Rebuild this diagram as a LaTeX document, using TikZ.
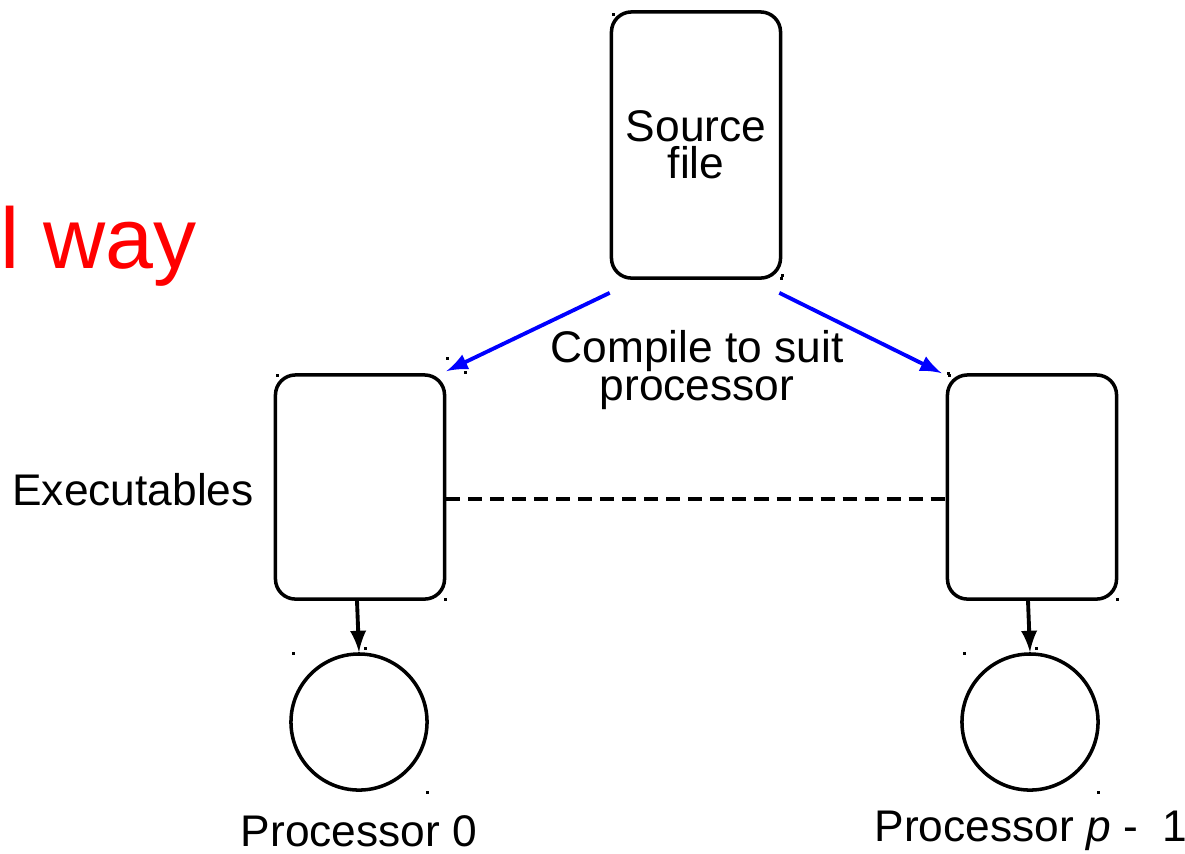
\documentclass[tikz,border=0pt]{standalone}
\usepackage{fontspec}
\setmainfont{Liberation Sans}
\usetikzlibrary{arrows}

\tikzset{
	box/.style={draw, line width=1pt, rounded corners=0.2cm, minimum width=1.69cm, inner sep=0pt},
	proc/.style={draw, circle, line width=1pt, minimum size=1.36cm, inner sep=0pt},
	lbl/.style={font=\fontsize{12.6}{10.6}\selectfont, align=center, inner sep=0pt},
	handle/.style={fill, inner sep=0pt, minimum size=0.03cm}
}

\begin{document}
\begin{tikzpicture}[x=0.01cm, y=-0.01cm]

	\useasboundingbox (0,0) rectangle (1185,853);

	\node [text=red, font=\fontsize{24.5}{24.5}\selectfont, anchor=base west, inner sep=0pt] (title) at (0,268) {l way};

	\node [box, minimum height=2.66cm, lbl] (src) at (696,145) {Source\\file};
	\node [box, minimum height=2.24cm] (exl) at (360,487) {};
	\node [box, minimum height=2.24cm] (exr) at (1032,487) {};
	\node [proc] (pl) at (359,722) {};
	\node [proc] (pr) at (1030,722) {};

	\node [lbl] (comp) at (697,370) {Compile to suit\\processor};
	\node [lbl] (exe) at (133,490) {Executables};
	\node [lbl] (pl0) at (359,831) {Processor 0};
	\node [lbl] (prp) at (1031,831) {Processor \textit{p} -\ \ 1};

	\draw [arrows={-latex}, blue, line width=1.1pt] ([yshift=-0.13cm]src.south west) -- ([yshift=0.02cm]exl.north east);
	\draw [arrows={-latex}, blue, line width=1.1pt] ([xshift=-0.03cm, yshift=-0.13cm]src.south east) -- ([xshift=-0.04cm]exr.north west);
	\draw [arrows={-latex}, line width=1.1pt] ([xshift=-0.03cm]exl.south) -- (pl.north);
	\draw [arrows={-latex}, line width=1.1pt] ([xshift=-0.04cm]exr.south) -- (pr.north);
	\draw [dashed, dash pattern=on 0.14cm off 0.08cm, line width=1pt] ([yshift=-0.12cm]exl.east) -- ([yshift=-0.12cm]exr.west);

	% selection handles left on the corners
	\foreach \px/\py in {613/14, 781/278, 447/358, 465/372, 782/275, 948/373, 277/375, 445/599, 949/375, 1117/599, 293/653, 365/648, 427/792, 964/653, 1036/648, 1098/792}
		\node [handle] at (\px,\py) {};

\end{tikzpicture}
\end{document}
